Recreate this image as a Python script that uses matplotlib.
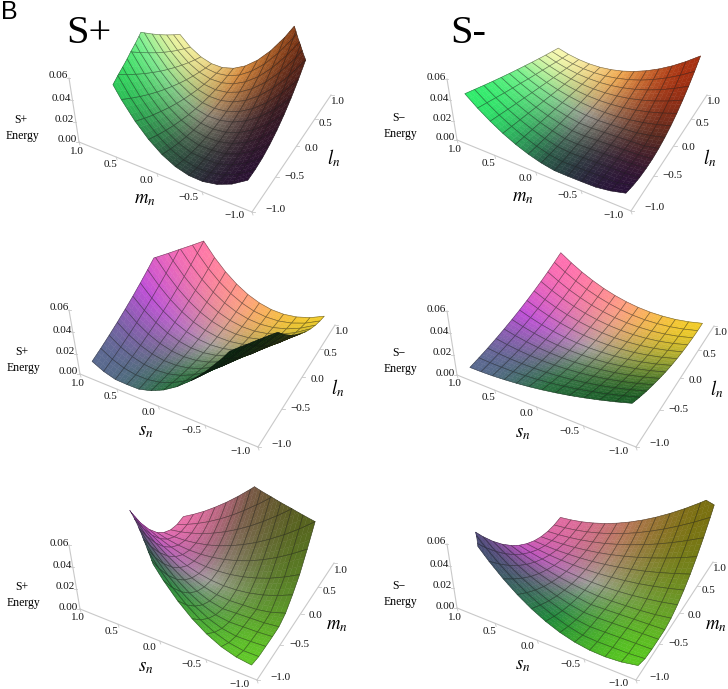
import numpy as np
import matplotlib
matplotlib.use('Agg')
import matplotlib.pyplot as plt
from matplotlib.collections import PolyCollection
from matplotlib.colors import to_rgb

plt.rcParams['mathtext.fontset'] = 'stix'
plt.rcParams['font.family'] = 'Liberation Serif'

# energy in units of 0.001, rows run along the right axis (-0.9 to 0.9),
# columns along the front axis (-0.9 to 0.9)
z_plus_ml = [
 [18,9.5,4.1,1.6,2.1,5.5,12,21.5,33.9,49.3,67.7,89.1,113.5],
 [18.4,9.5,3.6,.6,.4,3.2,8.9,17.6,29.1,43.5,60.9,81.2,104.3],
 [20.1,10.7,4.1,.4,.3,1.6,6.4,14.2,24.7,38.1,54.4,73.5,95.5],
 [23.3,13.1,5.8,1.2,.3,.6,4.5,11.2,20.8,33.1,48.3,66.3,87.1],
 [27.8,16.7,8.4,2.9,.3,.3,3.1,8.8,17.2,28.5,42.5,59.4,79],
 [33.7,21.5,12.1,5.4,1.6,.5,2.3,6.8,14.1,24.3,37.2,52.8,71.3],
 [41,27.5,16.8,8.9,3.8,1.5,2,5.3,11.4,20.4,32.1,46.7,64],
 [49.7,34.7,22.5,13.2,6.7,3.1,2.3,4.3,9.2,16.9,27.5,40.8,57.1],
 [59.8,43.1,29.3,18.4,10.4,5.3,3.1,3.8,7.3,13.8,23.1,35.4,50.5],
 [71.3,52.7,37.2,24.6,14.9,8.2,4.5,3.7,5.9,11.1,19.2,30.3,44.3],
 [84.1,63.5,46,31.6,20.1,11.8,6.4,4.2,4.9,8.8,15.6,25.5,38.5],
 [98.4,75.6,55.9,39.5,26.1,16,8.9,5.1,4.4,6.8,12.4,21.2,33.1],
 [114,88.8,66.9,48.3,32.9,20.8,12,6.5,4.2,5.3,9.6,17.1,28],
]
z_minus_ml = [
 [6,2.5,.5,.3,.3,.6,3,6.8,11.8,18,25.5,34.1,44],
 [3.2,.3,.3,.3,.3,.3,2.3,6,10.8,16.7,23.7,31.8,41],
 [1.4,.3,.3,.3,.3,.3,1.8,5.3,9.9,15.4,21.9,29.5,38],
 [.8,.3,.3,.3,.3,.3,1.4,4.8,9,14.2,20.2,27.2,35.1],
 [1.1,.3,.3,.3,.3,.3,1.3,4.3,8.2,12.9,18.6,25,32.3],
 [2.5,.3,.3,.3,.3,.3,1.3,4,7.5,11.8,16.9,22.9,29.6],
 [5,2.4,.6,.3,.3,.3,1.5,3.7,6.8,10.6,15.3,20.7,27],
 [8.5,5.4,3.1,1.6,.8,1,1.9,3.6,6.2,9.5,13.7,18.7,24.5],
 [13.1,9.2,6.2,4,2.6,2.1,2.4,3.6,5.6,8.5,12.1,16.7,22],
 [18.8,13.9,10,7,4.8,3.6,3.2,3.7,5.1,7.4,10.6,14.7,19.6],
 [25.4,19.5,14.5,10.5,7.4,5.3,4.1,3.9,4.7,6.4,9.1,12.7,17.3],
 [33.2,25.9,19.7,14.5,10.3,7.3,5.2,4.2,4.3,5.4,7.6,10.8,15.1],
 [42,33.2,25.5,19,13.7,9.5,6.5,4.7,4,4.5,6.2,9,13],
]
z_plus_sl = [
 [88,69.3,52.8,38.5,26.4,16.6,9,3.6,.4,.3,.8,4.3,10],
 [77.2,60.1,45.1,32.4,21.7,13.3,7.1,3,1.1,1.3,3.7,8.3,15.1],
 [67.1,51.5,38.1,26.8,17.6,10.5,5.6,2.7,2.1,3.5,7.1,12.7,20.6],
 [57.9,43.8,31.7,21.8,13.9,8.2,4.5,2.9,3.4,6,10.7,17.5,26.4],
 [49.4,36.7,26,17.4,10.8,6.3,3.9,3.5,5.2,9,14.8,22.6,32.6],
 [41.8,30.4,21,13.6,8.3,5,3.7,4.5,7.4,12.2,19.2,28.1,39.1],
 [35,24.8,16.6,10.4,6.2,4.1,4,5.9,9.9,15.9,23.9,33.9,46],
 [29,19.9,12.8,7.8,4.7,3.7,4.7,7.8,12.8,19.9,29,40.1,53.3],
 [23.8,15.7,9.7,5.7,3.8,3.8,5.9,10,16.1,24.3,34.5,46.7,60.9],
 [19.4,12.3,7.3,4.3,3.3,4.4,7.5,12.6,19.8,29,40.3,53.6,68.9],
 [15.8,9.6,5.5,3.4,3.4,5.5,9.6,15.7,23.9,34.2,46.5,60.8,77.2],
 [13,7.6,4.4,3.2,4.1,7,12.1,19.2,28.4,39.6,53,68.4,85.9],
 [11,6.4,3.9,3.5,5.2,9.1,15,23.1,33.2,45.5,59.9,76.4,95],
]
z_minus_sl = [
 [27,23.3,20,17,14.3,12,10,8.3,7,6,5.3,5,5],
 [23,19.5,16.3,13.6,11.2,9.3,7.7,6.5,5.8,5.4,5.5,5.9,6.7],
 [19.4,16,13,10.5,8.5,6.9,5.8,5.1,4.9,5.2,5.9,7.1,8.7],
 [16.3,13,10.2,7.9,6.2,5,4.3,4.1,4.4,5.3,6.7,8.6,11],
 [13.5,10.3,7.7,5.7,4.3,3.4,3.1,3.4,4.3,5.7,7.8,10.4,13.6],
 [11,8,5.6,3.9,2.7,2.2,2.4,3.1,4.5,6.5,9.2,12.5,16.4],
 [9,6.1,3.9,2.4,1.6,1.5,2,3.2,5.1,7.7,10.9,14.9,19.5],
 [7.4,4.6,2.7,1.4,.9,1.1,2,3.7,6.1,9.2,13,17.6,22.9],
 [6.1,3.6,1.8,.8,.6,1.1,2.5,4.6,7.4,11,15.4,20.6,26.6],
 [5.3,2.9,1.3,.6,.7,1.6,3.3,5.8,9.1,13.2,18.2,23.9,30.5],
 [4.8,2.6,1.3,.8,1.2,2.4,4.4,7.4,11.1,15.8,21.2,27.6,34.7],
 [4.7,2.7,1.6,1.4,2,3.6,6,9.4,13.6,18.6,24.6,31.5,39.2],
 [5,3.2,2.3,2.4,3.3,5.2,8,11.7,16.3,21.9,28.3,35.7,44],
]
z_plus_sm = [
 [3,4.8,8.9,15.4,24.2,35.4,49,64.9,83.2,103.9,126.9,152.3,180],
 [1,1.1,3.4,8,14.7,23.8,35,48.5,64.2,82.1,102.3,124.7,149.3],
 [1,.5,.5,2.9,7.7,14.7,23.7,34.8,48,63.3,80.6,100.1,121.7],
 [1,.5,.5,.5,2.8,7.9,15,24,34.8,47.5,62.2,78.7,97.1],
 [1.5,.5,.5,.5,.5,3.7,9,16,24.6,34.9,46.8,60.4,75.5],
 [5.8,2.2,.5,.5,.5,2.1,5.7,10.7,17.1,24.9,34.2,44.9,57.1],
 [15,10.1,6.5,4.2,3.2,3.4,5,7.9,12,17.5,24.2,32.3,41.6],
 [26.1,20.1,15.1,11.4,8.8,7.3,7,7.8,9.8,12.9,17.2,22.6,29.2],
 [42.1,34.4,27.7,22.1,17.5,14.1,11.7,10.4,10.1,10.9,12.8,15.8,19.9],
 [60,50.7,42.4,35.1,28.7,23.4,19,15.6,13.2,11.9,11.4,12,13.6],
 [80.8,69.9,59.9,50.8,42.6,35.3,29,23.6,19.1,15.5,12.9,11.1,10.3],
 [104.4,91.8,80,69.2,59.1,50,41.7,34.2,27.7,22,17.2,13.2,10.2],
 [131,116.6,103,90.3,78.3,67.3,57,47.6,39,31.3,24.3,18.3,13],
]
z_minus_sm = [
 [5,2.4,1.4,1.9,4,7.7,13,19.8,28.2,38.2,49.8,62.9,77.6],
 [1.4,.5,.5,.5,1.4,4.6,9.2,15.1,22.2,30.7,40.5,51.6,64],
 [.5,.5,.5,.5,.5,2.5,6.2,11.1,17,24.1,32.2,41.5,51.9],
 [.5,.5,.5,.5,.5,1.2,4.1,8,12.8,18.5,25.2,32.7,41.2],
 [.5,.5,.5,.5,.5,.6,2.9,5.9,9.6,14.1,19.3,25.3,32],
 [2.7,1.2,.5,.5,.5,1,2.5,4.6,7.3,10.7,14.6,19.1,24.3],
 [7,5,3.6,2.6,2.2,2.3,3,4.2,5.9,8.1,10.9,14.2,18],
 [12.9,10.3,8.1,6.4,5.3,4.6,4.4,4.6,5.4,6.6,8.3,10.5,13.2],
 [20.3,16.9,13.9,11.3,9.3,7.7,6.6,5.9,5.8,6.1,6.8,8.1,9.8],
 [29.4,24.8,20.8,17.3,14.2,11.7,9.6,8.1,7.1,6.5,6.5,7,7.9],
 [40,34.2,28.9,24.2,20.1,16.6,13.6,11.1,9.3,8,7.3,7.1,7.5],
 [52.2,44.9,38.3,32.3,27,22.3,18.3,15,12.4,10.4,9.1,8.5,8.5],
 [66,57,48.8,41.4,34.8,29,24,19.8,16.4,13.9,12.1,11.2,11],
]

axis_ticks = [1.0, 0.5, 0.0, -0.5, -1.0]
axis_tick_labels = ['1.0', '0.5', '0.0', '\u22120.5', '\u22121.0']
energy_ticks = [0.00, 0.02, 0.04, 0.06]
energy_tick_labels = ['0.00', '0.02', '0.04', '0.06']
z_clip = 0.06

# surface colours at the corners and mid edges, same order as the tables
col_ml = [['#2a1232', '#2e5c42', '#2ee860'],
          ['#3a1a20', '#908878', '#7cf090'],
          ['#7a3010', '#d88a3c', '#f2f2a0']]
col_ml_minus = [['#2a1238', '#2a5a48', '#30ec6c'],
                ['#5a2a20', '#989890', '#78f08c'],
                ['#a83010', '#f0a850', '#f8f8b0']]
col_sl = [['#1c5e28', '#2a7040', '#5a6a90'],
          ['#8a9a30', '#a8a0a0', '#c050d8'],
          ['#f2cc28', '#ffa080', '#ff70b0']]
col_sm_plus = [['#62c828', '#2a8a3c', '#3a3a68'],
               ['#5a8a28', '#a0a098', '#c050c0'],
               ['#55551a', '#7a5a48', '#e870a8']]
col_sm_minus = [['#5ac820', '#1f8a3a', '#4a4a78'],
                ['#6a9a28', '#a0a098', '#c050c0'],
                ['#7a7010', '#b87858', '#e06aa0']]

# panel: floor corners and energy axis top in pixels
panels = [
 dict(z=z_plus_ml, col=col_ml, A=(79,142), B=(252,212), C=(331,95), D=(178,55), E=(69,78),
      xlab='$m_n$', ylab='$l_n$', name='S+', u=(-.9,.9)),
 dict(z=z_minus_ml, col=col_ml_minus, A=(457,140), B=(631,211), C=(707,95), D=(556,54), E=(447,79),
      xlab='$m_n$', ylab='$l_n$', name='S\u2212', u=(-.9,.9)),
 dict(z=z_plus_sl, col=col_sl, A=(80,374), B=(258,447), C=(335,325), D=(181,288), E=(69,310),
      xlab='$s_n$', ylab='$l_n$', name='S+', u=(-.9,.9)),
 dict(z=z_minus_sl, col=col_sl, A=(457,375), B=(636,447), C=(714,326), D=(559,288), E=(447,311),
      xlab='$s_n$', ylab='$l_n$', name='S\u2212', u=(-.9,.9)),
 dict(z=z_plus_sm, col=col_sm_plus, A=(80,609), B=(257,680), C=(334,563), D=(181,523), E=(69,545),
      xlab='$s_n$', ylab='$m_n$', name='S+', u=(-.9,.9)),
 dict(z=z_minus_sm, col=col_sm_minus, A=(457,608), B=(636,680), C=(713,562), D=(558,522), E=(447,544),
      xlab='$s_n$', ylab='$m_n$', name='S\u2212', u=(-.97,.9)),
]


def make_camera(p):
    src = [(1,-1), (-1,-1), (-1,1), (1,1)]
    dst = [p['A'], p['B'], p['C'], p['D']]
    m, r = [], []
    for (u,v), (x,y) in zip(src, dst):
        m.append([u,v,1,0,0,0,-u*x,-v*x])
        m.append([0,0,0,u,v,1,-u*y,-v*y])
        r += [x, y]
    h = np.append(np.linalg.solve(np.array(m,float), np.array(r,float)), 1).reshape(3,3)
    vp = np.array([p['A'][0]+121., p['A'][1]+867., 1.])
    q = h @ np.array([1,-1,1.])
    k = (p['E'][1]*q[2]-q[1]) / (vp[1]-p['E'][1])
    return h, k*vp


def project(cam, u, v, z):
    h, c = cam
    q = h @ np.array([u, v, 1.]) + (z/0.06)*c
    return q[0]/q[2], q[1]/q[2], q[2]


def clip_top(poly):
    out = []
    for i in range(len(poly)):
        a, b = poly[i], poly[(i+1) % len(poly)]
        if a[2] <= z_clip:
            out.append(a)
        if (a[2] <= z_clip) != (b[2] <= z_clip):
            t = (z_clip-a[2])/(b[2]-a[2])
            out.append(tuple(a[n]+t*(b[n]-a[n]) for n in range(3)))
    return out


def colour_at(rgb, su, sv):
    # steeper in the middle, the reference changes colour quickly there
    su = su*(1.5-.5*su*su)
    sv = sv*(1.5-.5*sv*sv)
    fu, fv = (su+1), (sv+1)
    i, j = min(int(fu),1), min(int(fv),1)
    fu, fv = fu-i, fv-j
    return ((1-fv)*((1-fu)*rgb[j,i]+fu*rgb[j,i+1]) + fv*((1-fu)*rgb[j+1,i]+fu*rgb[j+1,i+1]))


fig = plt.figure(figsize=(7.28,6.89), dpi=100, facecolor='white')
ax = fig.add_axes([0,0,1,1])
ax.set_xlim(0,728)
ax.set_ylim(689,0)
ax.axis('off')

sub = 3
for p in panels:
    cam = make_camera(p)
    z = np.array(p['z'], float)/1000
    rgb = np.array([[to_rgb(c) for c in row] for row in p['col']])
    nv, nu = z.shape
    us = np.linspace(p['u'][0], p['u'][1], nu)
    vs = np.linspace(-.9, .9, nv)

    base = (p['B'][0]-p['A'][0])*(p['C'][1]-p['B'][1]) - (p['B'][1]-p['A'][1])*(p['C'][0]-p['B'][0])
    cells = []
    for j in range(nv-1):
        for i in range(nu-1):
            corners = [(us[i],vs[j],z[j,i]), (us[i+1],vs[j],z[j,i+1]),
                       (us[i+1],vs[j+1],z[j+1,i+1]), (us[i],vs[j+1],z[j+1,i])]
            xy = [project(cam,*c)[:2] for c in corners]
            area = sum(xy[n][0]*xy[(n+1)%4][1]-xy[(n+1)%4][0]*xy[n][1] for n in range(4))
            depth = project(cam, np.mean(us[i:i+2]), np.mean(vs[j:j+2]), z[j:j+2,i:i+2].mean())[2]
            cells.append((depth, i, j, corners, area*base > 0))
    cells.sort(key=lambda c: -c[0])

    polys, faces, edges, widths = [], [], [], []
    for depth, i, j, corners, back in cells:
        for a in range(sub):
            for b in range(sub):
                small = []
                for fa, fb in [(a,b), (a+1,b), (a+1,b+1), (a,b+1)]:
                    s, t = fa/sub, fb/sub
                    small.append(tuple(
                        (1-t)*((1-s)*corners[0][n]+s*corners[1][n]) + t*((1-s)*corners[3][n]+s*corners[2][n])
                        for n in range(3)))
                small = clip_top(small)
                if len(small) < 3:
                    continue
                s, t = (i+(a+.5)/sub)/(nu-1), (j+(b+.5)/sub)/(nv-1)
                c = colour_at(rgb, 2*s-1, 2*t-1)
                if back:
                    c = c*0.35
                polys.append([project(cam,*q)[:2] for q in small])
                faces.append((*c, 1))
                edges.append((*c, 1))
                widths.append(0.3)
        outline = clip_top(corners)
        if len(outline) >= 3:
            polys.append([project(cam,*q)[:2] for q in outline])
            faces.append((0,0,0,0))
            edges.append((.08,.08,.08,.5))
            widths.append(0.45)
    ax.add_collection(PolyCollection(polys, facecolors=faces, edgecolors=edges, linewidths=widths, zorder=3))

    # axis lines
    A, B, C, E = [np.array(p[k],float) for k in 'ABCE']
    for s, e in [(E,A), (A,B), (B,C)]:
        ax.plot([s[0],e[0]], [s[1],e[1]], color='#c9c9c9', lw=0.8, zorder=2)

    for val, lab in zip(axis_ticks, axis_tick_labels):
        x, y, _ = project(cam, val, -1, 0)
        f = (1-val)/2
        ax.text(x-2-16*f, y+9-5*f, lab, ha='center', va='center', fontsize=8, color='#151515', zorder=4)
        ax.plot([x,x+1], [y,y+3], color='#c9c9c9', lw=0.6, zorder=2)
        x, y, _ = project(cam, -1, -val, 0)
        f = (1+val)/2
        ax.text(x+7+16*f, y+7-10*f, axis_tick_labels[::-1][axis_ticks.index(val)], ha='center', va='center',
                fontsize=8, color='#151515', zorder=4)
        ax.plot([x,x+3], [y,y], color='#c9c9c9', lw=0.6, zorder=2)
    for val, lab in zip(energy_ticks, energy_tick_labels):
        x, y, _ = project(cam, 1, -1, val)
        ax.text(x-12, y-2, lab, ha='center', va='center', fontsize=8, color='#151515', zorder=4)
        ax.plot([x,x-3], [y,y], color='#c9c9c9', lw=0.6, zorder=2)

    ax.text(A[0]+66, A[1]+58, p['xlab'], ha='center', va='center', fontsize=13.5, zorder=4)
    ax.text(C[0]+3, C[1]+63, p['ylab'], ha='center', va='center', fontsize=13.5, zorder=4)
    ax.text(A[0]-58, A[1]-22, p['name'], ha='center', va='center', fontsize=8.5, zorder=4)
    ax.text(A[0]-57, A[1]-6, 'Energy', ha='center', va='center', fontsize=8.5, zorder=4)

ax.text(66, 43, 'S+', fontsize=29, ha='left', va='baseline', zorder=5)
ax.text(450, 43, 'S-', fontsize=29, ha='left', va='baseline', zorder=5)
ax.text(1, 19, 'B', fontsize=18, family='Liberation Sans', ha='left', va='baseline', zorder=5)

fig.savefig('out.png', dpi=100)
